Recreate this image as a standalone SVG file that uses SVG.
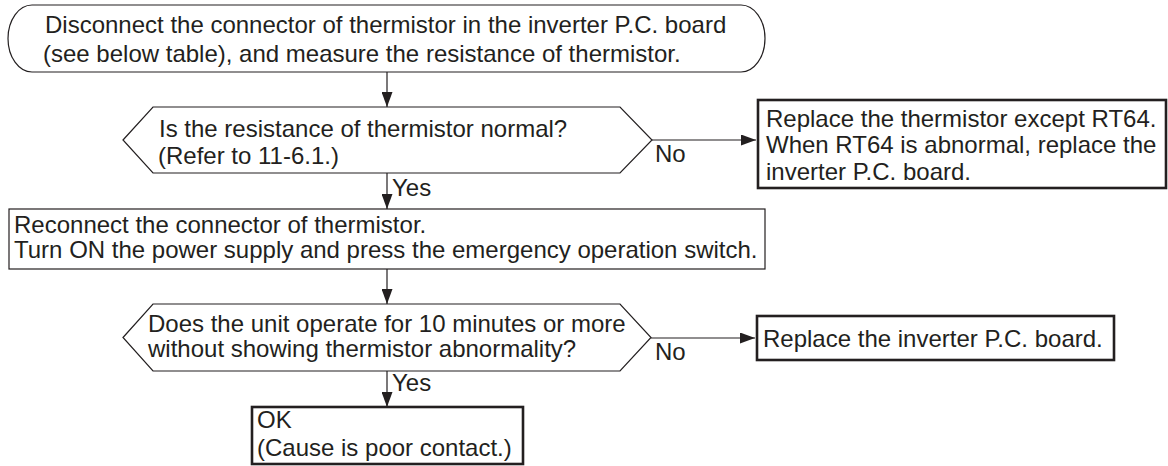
<svg xmlns="http://www.w3.org/2000/svg" width="1168" height="466" viewBox="0 0 1168 466">
<style>
text{font-family:"Liberation Sans",Arial,sans-serif;font-size:24px;fill:#231f20}
.thin{fill:#fff;stroke:#231f20;stroke-width:1.2}
.thick{fill:#fff;stroke:#231f20;stroke-width:2.6}
.conn{fill:none;stroke:#231f20;stroke-width:1.2}
</style>
<defs>
<marker id="ah" markerUnits="userSpaceOnUse" markerWidth="15" markerHeight="11" refX="15" refY="5.5" orient="auto">
<path d="M0,0 L15,5.5 L0,11 Z" fill="#231f20"/>
</marker>
</defs>
<rect width="1168" height="466" fill="#fff"/>
<g id="connectors">
<line class="conn" x1="387" y1="72" x2="387" y2="107" marker-end="url(#ah)"/>
<line class="conn" x1="652" y1="140" x2="756" y2="140" marker-end="url(#ah)"/>
<line class="conn" x1="387" y1="173" x2="387" y2="209" marker-end="url(#ah)"/>
<line class="conn" x1="387" y1="269" x2="387" y2="304" marker-end="url(#ah)"/>
<line class="conn" x1="651" y1="338" x2="755" y2="338" marker-end="url(#ah)"/>
<line class="conn" x1="387" y1="371" x2="387" y2="407" marker-end="url(#ah)"/>
<text x="655" y="162">No</text>
<text x="392" y="196">Yes</text>
<text x="655" y="360">No</text>
<text x="392" y="391">Yes</text>
</g>
<g id="start">
<rect class="thin" x="8" y="5" width="757" height="67" rx="24" ry="33.5"/>
<text x="45" y="33">Disconnect the connector of thermistor in the inverter P.C. board</text>
<text x="43" y="62">(see below table), and measure the resistance of thermistor.</text>
</g>
<g id="decision1">
<polygon class="thin" points="123,140 153,107 620,107 652,140 620,173 153,173"/>
<text x="159" y="137">Is the resistance of thermistor normal?</text>
<text x="158" y="164">(Refer to 11-6.1.)</text>
</g>
<g id="replace-thermistor">
<rect class="thick" x="758" y="100" width="408" height="88"/>
<text x="766" y="127">Replace the thermistor except RT64.</text>
<text x="766" y="153">When RT64 is abnormal, replace the</text>
<text x="766" y="180">inverter P.C. board.</text>
</g>
<g id="reconnect">
<rect class="thin" x="9" y="209" width="756" height="60"/>
<text x="14" y="233">Reconnect the connector of thermistor.</text>
<text x="14" y="258">Turn ON the power supply and press the emergency operation switch.</text>
</g>
<g id="decision2">
<polygon class="thin" points="123,337.5 153,304 620,304 651,337.5 620,371 153,371"/>
<text x="148" y="332">Does the unit operate for 10 minutes or more</text>
<text x="148" y="357">without showing thermistor abnormality?</text>
</g>
<g id="replace-board">
<rect class="thick" x="757" y="316" width="357" height="44"/>
<text x="763" y="347">Replace the inverter P.C. board.</text>
</g>
<g id="ok">
<rect class="thick" x="252" y="407" width="271" height="57"/>
<text x="257" y="428">OK</text>
<text x="257" y="456">(Cause is poor contact.)</text>
</g>
</svg>
